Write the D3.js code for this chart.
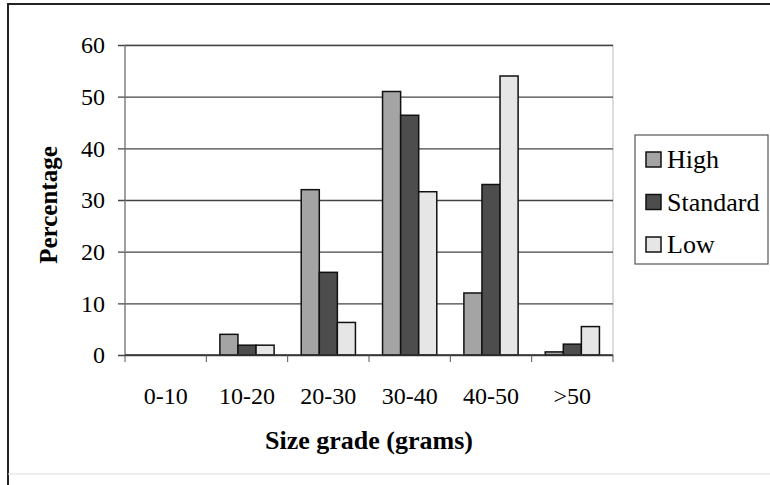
<!DOCTYPE html>
<html>
<head>
<meta charset="utf-8">
<script src="https://cdn.jsdelivr.net/npm/d3@7"></script>
<style>
  body { margin: 0; background: #fff; }
  svg text { font-family: "Liberation Serif", "Times New Roman", serif; fill: #000; }
</style>
</head>
<body>
<svg id="chart" width="770" height="485"></svg>
<script>
/** categories and series */
var grades = ['0-10', '10-20', '20-30', '30-40', '40-50', '>50'];
var seriesNames = ['High', 'Standard', 'Low'];
var highValues = [0, 4, 32, 51, 12, 0.6];
var standardValues = [0, 1.9, 16, 46.4, 33, 2.1];
var lowValues = [0, 1.9, 6.3, 31.6, 54, 5.5];
var yTicks = [0, 10, 20, 30, 40, 50, 60];

var seriesColors = {'High': '#a4a4a4', 'Standard': '#4d4d4d', 'Low': '#e6e6e6'};

var svg = d3.select('#chart');

// outer frame of the scanned figure
svg.append('line').attr('x1', 8).attr('x2', 8).attr('y1', 3).attr('y2', 485)
    .style('stroke', '#222').style('stroke-width', 2);
svg.append('line').attr('x1', 8).attr('x2', 770).attr('y1', 4).attr('y2', 4)
    .style('stroke', '#222').style('stroke-width', 2);
svg.append('line').attr('x1', 8).attr('x2', 770).attr('y1', 474).attr('y2', 474)
    .style('stroke', '#ddd').style('stroke-width', 1);

var plot = {left: 125, right: 613, top: 45, bottom: 355};

var x0 = d3.scaleBand()
    .domain(grades)
    .range([plot.left, plot.right])
    .padding(0);

// gap width 150% like the original spreadsheet chart
var x1 = d3.scaleBand()
    .domain(seriesNames)
    .range([0, x0.bandwidth()])
    .paddingInner(0)
    .paddingOuter(0.75);

var y = d3.scaleLinear()
    .domain([0, 60])
    .range([plot.bottom, plot.top]);

// plot area border (faint)
svg.append('rect')
    .attr('x', plot.left).attr('y', plot.top)
    .attr('width', plot.right - plot.left).attr('height', plot.bottom - plot.top)
    .style('fill', 'none').style('stroke', '#bbb').style('stroke-width', 1);

// gridlines + y axis
var yAxis = d3.axisLeft(y)
    .tickValues(yTicks)
    .tickSize(-(plot.right - plot.left))
    .tickPadding(20);

var gy = svg.append('g')
    .attr('transform', 'translate(' + plot.left + ',0)')
    .call(yAxis);
gy.select('.domain').remove();
gy.selectAll('.tick line')
    .attr('x1', -7)
    .style('stroke', '#444').style('stroke-width', 1.3);
gy.selectAll('.tick text')
    .style('font-size', '24px')
    .style('font-family', '"Liberation Serif", serif')
    .style('fill', '#000');

svg.append('line')
    .attr('x1', plot.left).attr('x2', plot.left)
    .attr('y1', plot.top).attr('y2', plot.bottom)
    .style('stroke', '#777').style('stroke-width', 1.2);

// bars
var rows = grades.map(function (g, i) {
    return {grade: g, values: [
        {key: 'High', value: highValues[i]},
        {key: 'Standard', value: standardValues[i]},
        {key: 'Low', value: lowValues[i]}
    ]};
});

var groups = svg.append('g').selectAll('g').data(rows)
    .enter()
    .append('g')
    .attr('transform', function (d) {
        return 'translate(' + x0(d.grade) + ',0)';
    });

groups.selectAll('rect').data(function (d) {
        return d.values.filter(function (v) { return v.value > 0; });
    })
    .enter()
    .append('rect')
    .attr('x', function (d) { return x1(d.key); })
    .attr('y', function (d) { return y(d.value); })
    .attr('width', x1.bandwidth())
    .attr('height', function (d) { return y(0) - y(d.value); })
    .style('fill', function (d) { return seriesColors[d.key]; })
    .style('stroke', '#111')
    .style('stroke-width', 1.5);

// x axis along zero, ticks between categories
svg.append('line')
    .attr('x1', plot.left).attr('x2', plot.right)
    .attr('y1', y(0)).attr('y2', y(0))
    .style('stroke', '#333').style('stroke-width', 1.5);

svg.append('g').selectAll('line').data(grades.concat(['end']))
    .enter()
    .append('line')
    .attr('x1', function (d) { return d === 'end' ? plot.right : x0(d); })
    .attr('x2', function (d) { return d === 'end' ? plot.right : x0(d); })
    .attr('y1', y(0))
    .attr('y2', y(0) + 7)
    .style('stroke', '#555').style('stroke-width', 1);

svg.append('g').selectAll('text').data(grades)
    .enter()
    .append('text')
    .attr('x', function (d) { return x0(d) + x0.bandwidth() / 2; })
    .attr('y', 404)
    .attr('text-anchor', 'middle')
    .style('font-size', '24px')
    .text(function (d) { return d; });

// axis titles
svg.append('text')
    .attr('x', (plot.left + plot.right) / 2)
    .attr('y', 449)
    .attr('text-anchor', 'middle')
    .style('font-size', '26px')
    .style('font-weight', 'bold')
    .text('Size grade (grams)');

svg.append('text')
    .attr('transform', 'translate(57,205) rotate(-90)')
    .attr('text-anchor', 'middle')
    .style('font-size', '25px')
    .style('font-weight', 'bold')
    .text('Percentage');

// legend
var legend = svg.append('g').attr('transform', 'translate(635,135)');
legend.append('rect')
    .attr('width', 133).attr('height', 129)
    .style('fill', '#fff').style('stroke', '#555').style('stroke-width', 1.2);

var item = legend.selectAll('g.item').data(seriesNames)
    .enter()
    .append('g')
    .attr('class', 'item')
    .attr('transform', function (d, i) {
        return 'translate(0,' + (25 + i * 42.5) + ')';
    });

item.append('rect')
    .attr('x', 11).attr('y', -8)
    .attr('width', 15).attr('height', 15)
    .style('fill', function (d) { return seriesColors[d]; })
    .style('stroke', '#111').style('stroke-width', 1.5);

item.append('text')
    .attr('x', 32)
    .attr('y', 8)
    .style('font-size', '26px')
    .text(function (d) { return d; });
</script>
</body>
</html>
